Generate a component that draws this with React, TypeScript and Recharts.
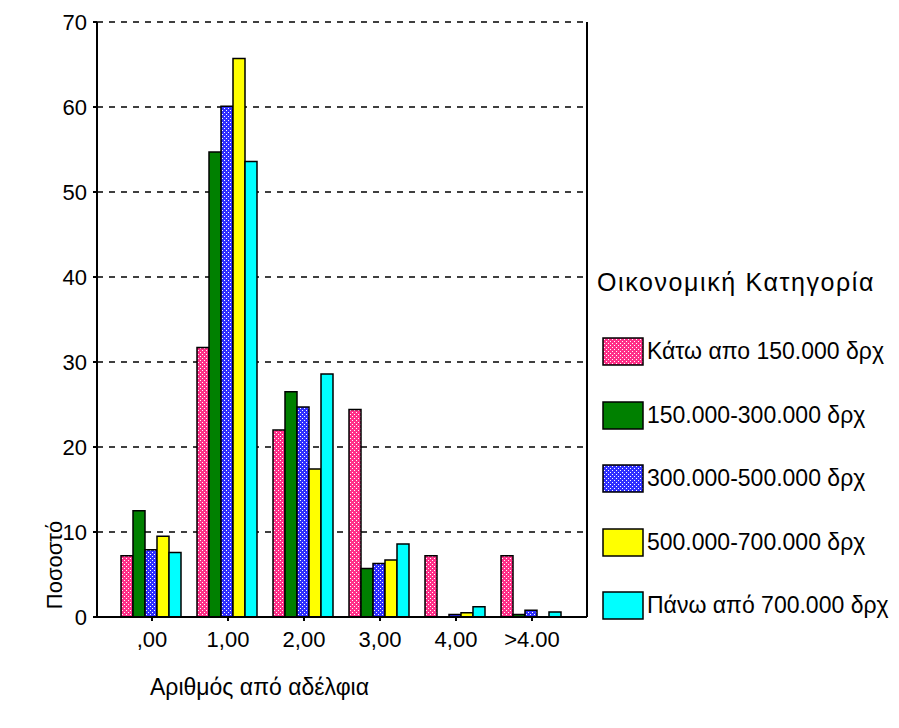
import React from 'react';
import { Bar, BarChart, CartesianGrid, XAxis, YAxis } from 'recharts';

const categories = [',00', '1,00', '2,00', '3,00', '4,00', '>4.00'];
const seriesNames = [
  'Κάτω απο 150.000 δρχ',
  '150.000-300.000 δρχ',
  '300.000-500.000 δρχ',
  '500.000-700.000 δρχ',
  'Πάνω από 700.000 δρχ',
];
const below150 = [7.2, 31.7, 22.0, 24.4, 7.2, 7.2];
const from150to300 = [12.5, 54.7, 26.5, 5.7, 0, 0.3];
const from300to500 = [7.9, 60.1, 24.7, 6.3, 0.3, 0.8];
const from500to700 = [9.5, 65.7, 17.4, 6.7, 0.5, 0];
const above700 = [7.6, 53.6, 28.6, 8.6, 1.2, 0.6];
const yTicks = [0, 10, 20, 30, 40, 50, 60, 70];

const keys = ['s1', 's2', 's3', 's4', 's5'];
const fills = ['url(#pinkHatch)', '#008000', 'url(#blueHatch)', '#ffff00', '#00ffff'];

const data = categories.map((name, i) => ({
  name,
  s1: below150[i],
  s2: from150to300[i],
  s3: from300to500[i],
  s4: from500to700[i],
  s5: above700[i],
}));

const font = '"Liberation Sans", Arial, sans-serif';
const tickStyle = { fontSize: '22px', fontFamily: font, fill: '#000' };

function Patterns() {
  return (
    <defs>
      <pattern id="pinkHatch" width="4" height="4" patternUnits="userSpaceOnUse">
        <rect width="4" height="4" fill="#ff2f88" />
        <rect x="0" y="0" width="1" height="1" fill="#fff" />
        <rect x="2" y="2" width="1" height="1" fill="#fff" />
      </pattern>
      <pattern id="blueHatch" width="4" height="4" patternUnits="userSpaceOnUse">
        <rect width="4" height="4" fill="#2f2fff" />
        <rect x="0" y="0" width="1" height="1" fill="#fff" />
        <rect x="2" y="2" width="1" height="1" fill="#fff" />
      </pattern>
    </defs>
  );
}

const renderXTick = ({ x, y, payload }: any) => (
  <text x={x} y={y} dy="0.75em" textAnchor="middle" style={tickStyle}>
    {payload.value}
  </text>
);

const renderYTick = ({ x, y, payload }: any) => (
  <text x={x} y={y} dy="0.36em" textAnchor="end" style={tickStyle}>
    {payload.value}
  </text>
);

export default function App() {
  return (
    <div style={{ position: 'absolute', left: 0, top: 0, width: 899, height: 728, background: '#fff', fontFamily: font }}>
      <BarChart
        width={899}
        height={728}
        data={data}
        margin={{ top: 22, right: 312, left: 57, bottom: 81 }}
        barCategoryGap={7}
        barGap={0}
      >
        <Patterns />
        <CartesianGrid vertical={false} stroke="#000" strokeWidth={1.5} strokeDasharray="6 6" />
        <CartesianGrid
          horizontal={false}
          stroke="#000"
          strokeWidth={2}
          verticalCoordinatesGenerator={({ offset }: any) => [offset.left + offset.width]}
        />
        <XAxis
          dataKey="name"
          padding={{ left: 17, right: 17 }}
          height={30}
          tickSize={4}
          tickMargin={9}
          fontSize={22}
          axisLine={{ stroke: '#000', strokeWidth: 2 }}
          tickLine={{ stroke: '#000', strokeWidth: 2 }}
          tick={renderXTick}
        />
        <YAxis
          domain={[0, 70]}
          ticks={yTicks}
          width={40}
          tickSize={4}
          tickMargin={6}
          fontSize={22}
          axisLine={{ stroke: '#000', strokeWidth: 2 }}
          tickLine={{ stroke: '#000', strokeWidth: 2 }}
          tick={renderYTick}
        />
        {keys.map((k, i) => (
          <Bar
            key={k}
            dataKey={k}
            name={seriesNames[i]}
            fill={fills[i]}
            stroke="#000"
            strokeWidth={1.5}
            isAnimationActive={false}
          />
        ))}
      </BarChart>

      <div style={{ position: 'absolute', left: 597, top: 268, fontSize: 25, letterSpacing: 1.6, color: '#000', whiteSpace: 'nowrap' }}>
        Οικονομική Κατηγορία
      </div>
      {seriesNames.map((n, i) => (
        <div
          key={n}
          style={{ position: 'absolute', left: 602, top: 337 + i * 63.5, display: 'flex', alignItems: 'center', whiteSpace: 'nowrap' }}
        >
          <svg width={42} height={29} style={{ display: 'block' }}>
            <rect x={1} y={1} width={40} height={27} fill={fills[i]} stroke="#000" strokeWidth={1.5} />
          </svg>
          <span style={{ fontSize: 23, marginLeft: 3, color: '#000' }}>{n}</span>
        </div>
      ))}
      <div
        style={{
          position: 'absolute',
          left: 55,
          top: 565,
          transform: 'translate(-50%, -50%) rotate(-90deg)',
          fontSize: 22,
          whiteSpace: 'nowrap',
          color: '#000',
        }}
      >
        Ποσοστό
      </div>
      <div style={{ position: 'absolute', left: 150, top: 674, fontSize: 23, whiteSpace: 'nowrap', color: '#000' }}>
        Αριθμός από αδέλφια
      </div>
    </div>
  );
}
